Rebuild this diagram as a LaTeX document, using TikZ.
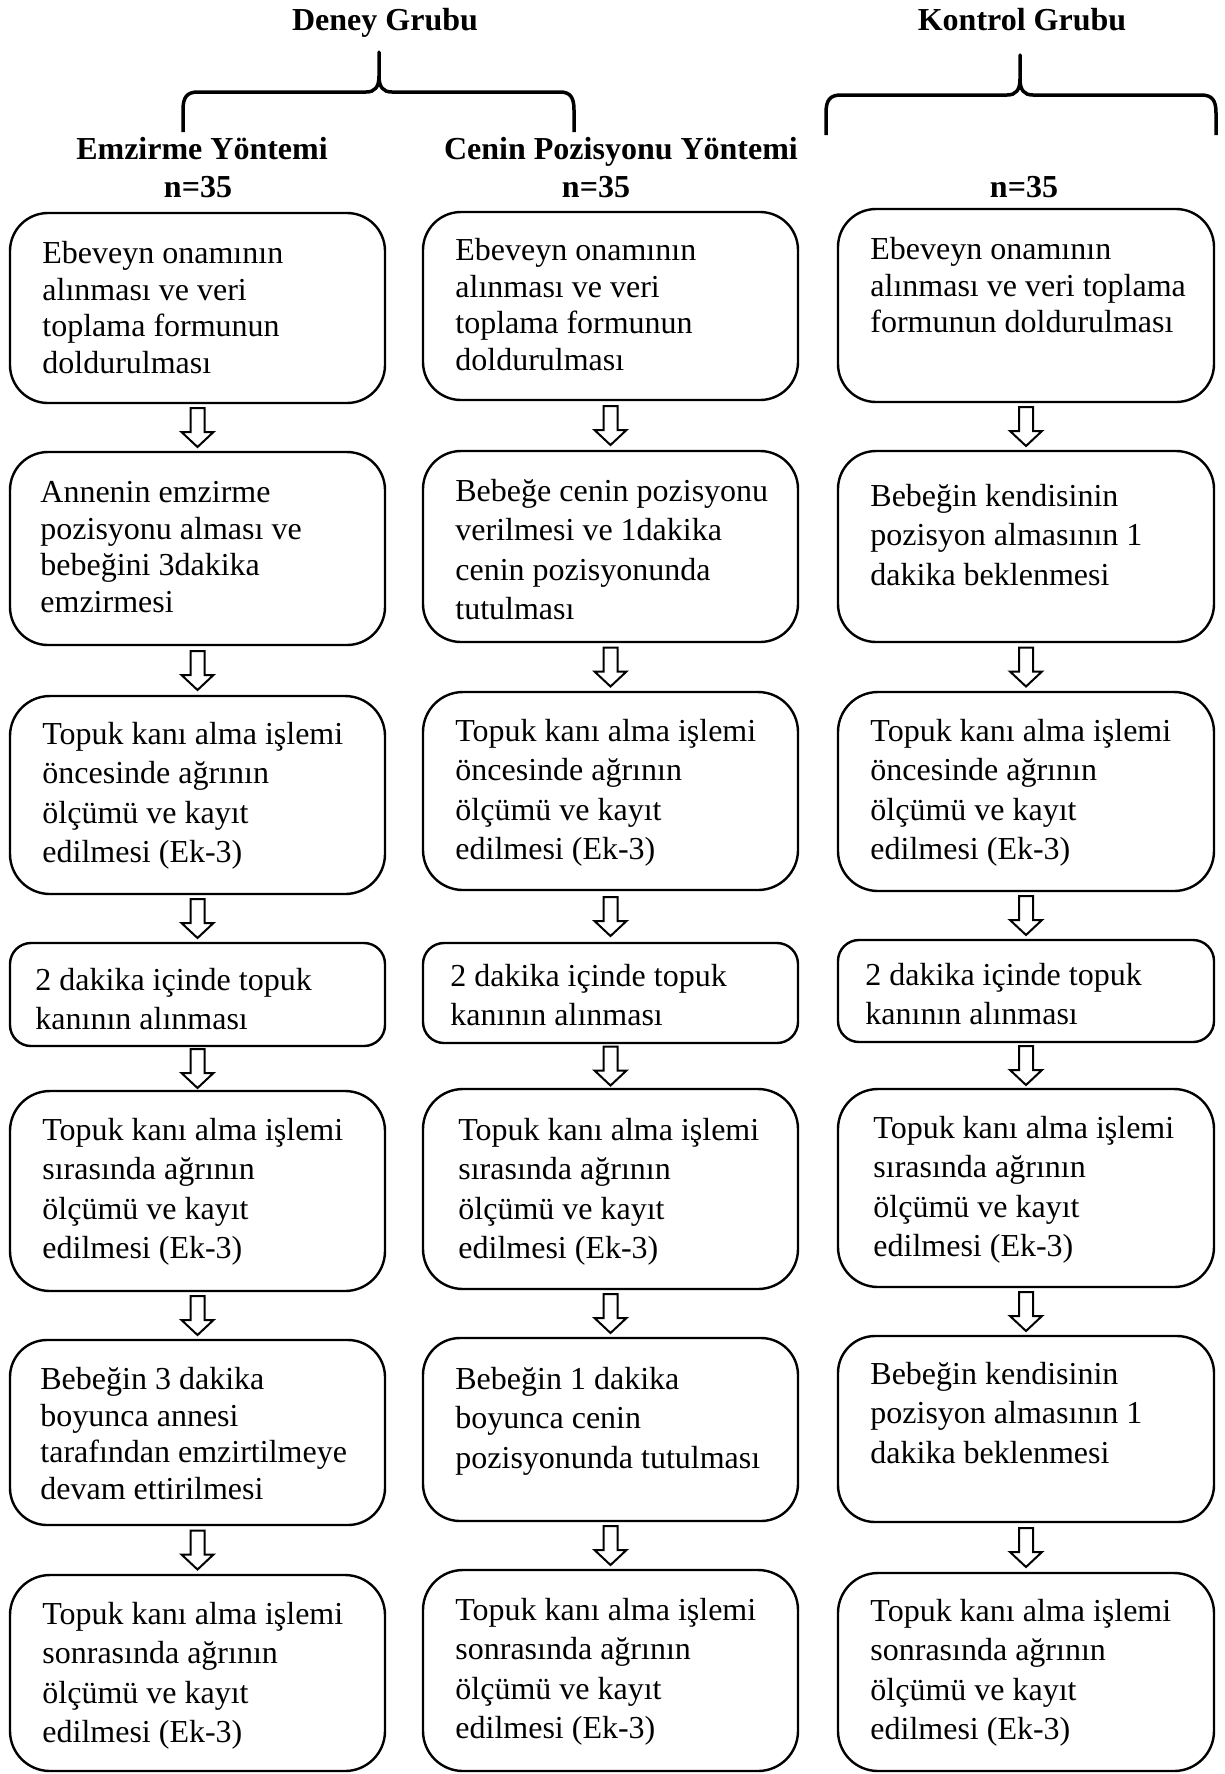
\documentclass[tikz,border=0pt]{standalone}
\usepackage{fontspec}
\setmainfont{Liberation Serif}
\usetikzlibrary{calc,fit}
\tikzset{
  flowbox/.style={draw=black, line width=1.2pt, inner sep=0pt},
  flowtxt/.style={anchor=north west, inner sep=0pt, align=left},
  tightfont/.style={font=\fontsize{16}{18.35}\selectfont},
  loosefont/.style={font=\fontsize{16}{19.75}\selectfont},
  hdr/.style={font=\fontsize{16}{19}\selectfont\bfseries, anchor=base, inner sep=0pt},
  blockarrow/.style={draw=black, line width=1pt, fill=white, line join=miter},
  bracestyle/.style={line width=1.75pt, line join=round},
}
% box: name, x1, y1, x2, y2, corner radius (pt)
\newcommand{\flowbx}[6]{\node[flowbox, rounded corners=#6pt, fit={(#2,#3) (#4,#5)}] (#1) {};}
% text: name, x, baseline, text
\newcommand{\ttext}[4]{\node[flowtxt, tightfont] (#1) at (#2,#3-25.69) {\strut #4};}
\newcommand{\ltext}[4]{\node[flowtxt, loosefont] (#1) at (#2,#3-27.65) {\strut #4};}
\newcommand{\flowarrow}[2]{%
  \coordinate (m-#1) at ($(#1.south)!0.5!(#2.north)$);
  \draw[blockarrow] ($(m-#1)+(-7,-19.5)$) -- ($(m-#1)+(7,-19.5)$) -- ($(m-#1)+(7,4.5)$)
    -- ($(m-#1)+(16,4.5)$) -- ($(m-#1)+(0,19.5)$) -- ($(m-#1)+(-16,4.5)$)
    -- ($(m-#1)+(-7,4.5)$) -- cycle;}
\begin{document}
\begin{tikzpicture}[x=0.5pt, y=-0.5pt]
\useasboundingbox (0,0) rectangle (1225,1774);

% headers
\node[hdr] (deney) at (385,30) {Deney Grubu};
\node[hdr] (kontrol) at (1022,30) {Kontrol Grubu};
\node[hdr] (emz) at (202,159) {Emzirme Yöntemi};
\node[hdr] (cen) at (621,159) {Cenin Pozisyonu Yöntemi};
\node[hdr] (n1) at (198,197) {n=35};
\node[hdr] (n2) at (596,197) {n=35};
\node[hdr] (n3) at (1024,197) {n=35};

% braces
\draw[bracestyle] (183,132) -- (183,110) .. controls (183,97) and (187,92) .. (198,92)
  -- (366,92) .. controls (375,92) and (379,87) .. (379,76) -- (379,52) -- (379,76)
  .. controls (379,87) and (383,92) .. (392,92) -- (560,92)
  .. controls (570,92) and (574,97) .. (574,110) -- (574,132);
\draw[bracestyle] (826,135) -- (826,113) .. controls (826,100) and (830,95) .. (841,95)
  -- (1007,95) .. controls (1016,95) and (1020,90) .. (1020,79) -- (1020,55) -- (1020,79)
  .. controls (1020,90) and (1024,95) .. (1033,95) -- (1201,95)
  .. controls (1212,95) and (1216,100) .. (1216,113) -- (1216,135);

% column 1
\flowbx{a1}{10}{213}{385}{403}{19}
\flowbx{a2}{10}{452}{385}{645}{19}
\flowbx{a3}{10}{696}{385}{894}{20}
\flowbx{a4}{10}{943}{385}{1046}{10.5}
\flowbx{a5}{10}{1091}{385}{1291}{20}
\flowbx{a6}{10}{1340}{385}{1525}{18.5}
\flowbx{a7}{10}{1575}{385}{1771}{20}
\ttext{ta1}{42}{263}{Ebeveyn onamının\\alınması ve veri\\toplama formunun\\doldurulması}
\ttext{ta2}{40}{502}{Annenin emzirme\\pozisyonu alması ve\\bebeğini 3dakika\\emzirmesi}
\ltext{ta3}{42}{744}{Topuk kanı alma işlemi\\öncesinde ağrının\\ölçümü ve kayıt\\edilmesi (Ek-3)}
\ltext{ta4}{35}{990}{2 dakika içinde topuk\\kanının alınması}
\ltext{ta5}{42}{1140}{Topuk kanı alma işlemi\\sırasında ağrının\\ölçümü ve kayıt\\edilmesi (Ek-3)}
\ttext{ta6}{40}{1389}{Bebeğin 3 dakika\\boyunca annesi\\tarafından emzirtilmeye\\devam ettirilmesi}
\ltext{ta7}{42}{1624}{Topuk kanı alma işlemi\\sonrasında ağrının\\ölçümü ve kayıt\\edilmesi (Ek-3)}

% column 2
\flowbx{b1}{423}{212}{798}{400}{19}
\flowbx{b2}{423}{451}{798}{642}{19}
\flowbx{b3}{423}{692}{798}{890}{20}
\flowbx{b4}{423}{943}{798}{1043}{10.5}
\flowbx{b5}{423}{1089}{798}{1289}{20}
\flowbx{b6}{423}{1338}{798}{1521}{18.5}
\flowbx{b7}{423}{1570}{798}{1771}{20}
\ttext{tb1}{455}{260}{Ebeveyn onamının\\alınması ve veri\\toplama formunun\\doldurulması}
\ltext{tb2}{455}{501}{Bebeğe cenin pozisyonu\\verilmesi ve 1dakika\\cenin pozisyonunda\\tutulması}
\ltext{tb3}{455}{741}{Topuk kanı alma işlemi\\öncesinde ağrının\\ölçümü ve kayıt\\edilmesi (Ek-3)}
\ltext{tb4}{450}{986}{2 dakika içinde topuk\\kanının alınması}
\ltext{tb5}{458}{1140}{Topuk kanı alma işlemi\\sırasında ağrının\\ölçümü ve kayıt\\edilmesi (Ek-3)}
\ltext{tb6}{455}{1389}{Bebeğin 1 dakika\\boyunca cenin\\pozisyonunda tutulması}
\ltext{tb7}{455}{1620}{Topuk kanı alma işlemi\\sonrasında ağrının\\ölçümü ve kayıt\\edilmesi (Ek-3)}

% column 3
\flowbx{c1}{838}{209}{1214}{402}{19}
\flowbx{c2}{838}{451}{1214}{642}{19}
\flowbx{c3}{838}{692}{1214}{891}{20}
\flowbx{c4}{838}{940}{1214}{1042}{10.5}
\flowbx{c5}{838}{1089}{1214}{1287}{20}
\flowbx{c6}{838}{1336}{1214}{1522}{18.5}
\flowbx{c7}{838}{1573}{1214}{1771}{20}
\ttext{tc1}{870}{259}{Ebeveyn onamının\\alınması ve veri toplama\\formunun doldurulması}
\ltext{tc2}{870}{506}{Bebeğin kendisinin\\pozisyon almasının 1\\dakika beklenmesi}
\ltext{tc3}{870}{741}{Topuk kanı alma işlemi\\öncesinde ağrının\\ölçümü ve kayıt\\edilmesi (Ek-3)}
\ltext{tc4}{865}{985}{2 dakika içinde topuk\\kanının alınması}
\ltext{tc5}{873}{1138}{Topuk kanı alma işlemi\\sırasında ağrının\\ölçümü ve kayıt\\edilmesi (Ek-3)}
\ltext{tc6}{870}{1384}{Bebeğin kendisinin\\pozisyon almasının 1\\dakika beklenmesi}
\ltext{tc7}{870}{1621}{Topuk kanı alma işlemi\\sonrasında ağrının\\ölçümü ve kayıt\\edilmesi (Ek-3)}

% arrows
\foreach \c in {a,b,c}{
  \flowarrow{\c1}{\c2}
  \flowarrow{\c2}{\c3}
  \flowarrow{\c3}{\c4}
  \flowarrow{\c4}{\c5}
  \flowarrow{\c5}{\c6}
  \flowarrow{\c6}{\c7}
}
\end{tikzpicture}
\end{document}
